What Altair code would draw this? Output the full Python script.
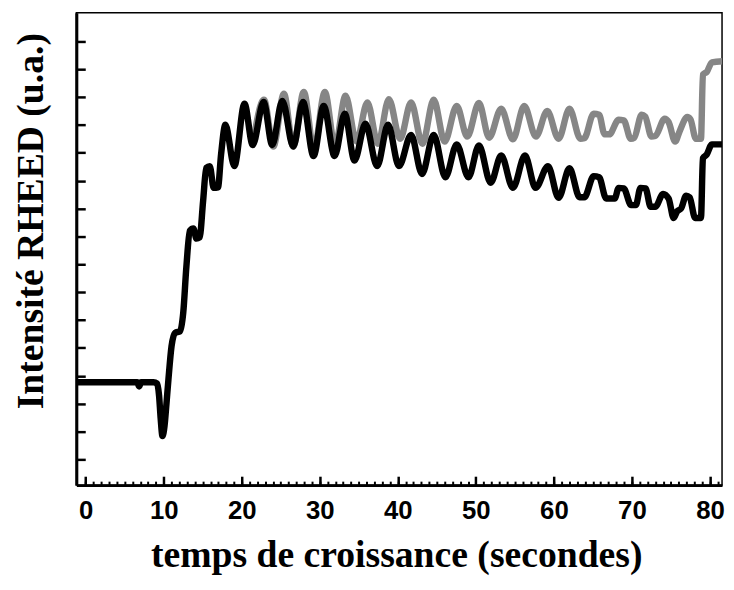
import altair as alt
import pandas as pd

# ---- data (time in s, intensity in arbitrary units) ----
black_t = [-1.2, 6.2, 6.6, 6.85, 7.1, 8.7, 9.15, 9.4, 9.6, 9.84, 10.1, 10.35, 10.6, 11.0,
           11.45, 12.1, 12.5, 12.9, 13.35, 13.8, 14.2, 14.6, 15.05, 15.45, 15.9, 16.4,
           16.95, 17.35, 17.9, 19.05, 20.35, 21.4, 22.8, 23.9, 25.2, 26.6, 27.85, 29.2,
           30.5, 31.9, 33.2, 34.45, 35.85, 37.35, 38.75, 40.15, 41.7, 43.1, 44.6, 46.1,
           47.55, 49.05, 50.4, 51.9, 53.25, 54.75, 56.3, 57.65, 59.25, 60.6, 62.0,
           63.3, 63.9, 65.1, 65.8, 66.7, 67.8, 68.3, 68.95, 69.9, 70.5, 71.1, 71.75,
           72.4, 73.0, 74.0, 74.7, 75.35, 75.8, 76.3, 76.95, 77.4, 78.1, 78.85,
           79.1, 79.6, 80.25, 81.6]
black_v = [2.385, 2.385, 2.385, 2.31, 2.385, 2.385, 2.36, 2.15, 1.75, 1.42, 1.6, 2.0, 2.43, 3.03,
           3.27, 3.30, 3.63, 4.45, 5.10, 5.14, 4.96, 4.98, 5.64, 6.23, 6.26, 5.87,
           5.88, 6.47, 7.0, 6.26, 7.38, 6.64, 7.41, 6.64, 7.43, 6.61, 7.41, 6.44,
           7.34, 6.44, 7.2, 6.36, 7.02, 6.26, 7.0, 6.26, 6.82, 6.12, 6.82, 6.06,
           6.65, 6.06, 6.63, 5.96, 6.45, 5.87, 6.45, 5.87, 6.26, 5.69, 6.22,
           5.70, 5.70, 6.08, 6.06, 5.68, 5.68, 5.87, 5.86, 5.56, 5.56, 5.87, 5.86,
           5.53, 5.53, 5.76, 5.68, 5.33, 5.45, 5.50, 5.73, 5.70, 5.33, 5.33,
           6.40, 6.47, 6.65, 6.65]

gray_t = [21.4, 22.85, 24.05, 25.4, 26.6, 27.95, 29.25, 30.65, 31.95, 33.3, 34.7, 36.1,
          37.45, 38.85, 40.3, 41.7, 43.15, 44.6, 46.0, 47.55, 48.9, 50.4, 51.7, 53.25,
          54.75, 56.2, 57.7, 59.15, 60.6, 62.0, 63.4, 63.9, 65.1, 65.8, 66.5, 67.1,
          68.3, 68.95, 69.85, 70.3, 71.25, 71.7, 72.5, 73.0, 74.2, 74.7, 75.55, 76.1,
          77.1, 77.5, 78.2, 78.85, 79.1, 79.6, 80.25, 81.6]
gray_v = [6.64, 7.45, 6.61, 7.56, 6.61, 7.59, 6.56, 7.59, 6.61, 7.52, 6.70, 7.40,
          6.66, 7.46, 6.75, 7.40, 6.66, 7.45, 6.70, 7.34, 6.79, 7.39, 6.77, 7.29,
          6.74, 7.34, 6.79, 7.25, 6.75, 7.29, 6.75, 6.76, 7.20, 7.18, 6.83, 6.83,
          7.09, 7.08, 6.75, 6.77, 7.18, 7.15, 6.79, 6.80, 7.11, 7.05, 6.70, 6.88,
          7.14, 7.10, 6.75, 6.75, 7.90, 7.95, 8.12, 8.14]

x_major = [0, 10, 20, 30, 40, 50, 60, 70, 80]
x_minor = list(range(0, 82))
y_ticks = [1.0, 1.5, 2.0, 2.5, 3.0, 3.5, 4.0, 4.5, 5.0, 5.5, 6.0, 6.5, 7.0, 7.5, 8.0, 8.5]

x_title = "temps de croissance (secondes)"
y_title = "Intensité RHEED (u.a.)"

# ---- layout ----
W, H = 652, 477
X_DOMAIN = [-1.2, 81.55]
Y_DOMAIN = [0.54, 9.01]

df_black = pd.DataFrame({"t": black_t, "v": black_v})
df_gray = pd.DataFrame({"t": gray_t, "v": gray_v})
df_xmaj = pd.DataFrame({"t": x_major})
df_xmin = pd.DataFrame({"t": x_minor})
df_y = pd.DataFrame({"v": y_ticks})

xs = alt.Scale(domain=X_DOMAIN, nice=False, zero=False)
ys = alt.Scale(domain=Y_DOMAIN, nice=False, zero=False)

line_kw = dict(strokeWidth=6.5, clip=True, interpolate="monotone",
               strokeJoin="round", strokeCap="round")

gray = alt.Chart(df_gray).mark_line(color="#868686", **line_kw).encode(
    x=alt.X("t:Q", scale=xs, axis=alt.Axis(
        orient="bottom", title=x_title, values=x_major, format="d",
        ticks=False, tickSize=0, grid=False,
        domainColor="black", domainWidth=3,
        labelFont="Liberation Sans", labelFontWeight="bold", labelFontSize=26,
        labelColor="black", labelPadding=34, labelBaseline="alphabetic",
        titleFont="Liberation Serif", titleFontWeight="bold", titleFontSize=38,
        titleColor="black", titleBaseline="alphabetic", titleY=82, titleX=W / 2 - 3,
        zindex=1)),
    y=alt.Y("v:Q", scale=ys, axis=alt.Axis(
        orient="left", title=y_title, labels=False, ticks=False, tickSize=0,
        grid=False, domainColor="black", domainWidth=3,
        titleFont="Liberation Serif", titleFontWeight="bold", titleFontSize=38,
        titleColor="black", titleAngle=-90, titleAlign="center",
        titleBaseline="alphabetic", titleX=-34, titleY=210, zindex=1)),
)

black = alt.Chart(df_black).mark_line(color="black", **line_kw).encode(
    x=alt.X("t:Q", scale=xs, axis=None),
    y=alt.Y("v:Q", scale=ys, axis=None),
)

xmaj = alt.Chart(df_xmaj).mark_point(opacity=0).encode(
    x=alt.X("t:Q", scale=xs, axis=alt.Axis(
        orient="top", offset=-H, values=x_major, labels=False, domain=False,
        grid=False, title="", tickSize=9, tickWidth=2.5, tickColor="black")),
)

xmin = alt.Chart(df_xmin).mark_point(opacity=0).encode(
    x=alt.X("t:Q", scale=xs, axis=alt.Axis(
        orient="top", offset=-H, values=x_minor, labels=False, domain=False,
        grid=False, title="", tickSize=4, tickWidth=2, tickColor="black")),
)

yt = alt.Chart(df_y).mark_point(opacity=0).encode(
    y=alt.Y("v:Q", scale=ys, axis=alt.Axis(
        orient="right", offset=-W, values=y_ticks, labels=False, domain=False,
        grid=False, title="", tickSize=9, tickWidth=2.5, tickColor="black")),
)

chart = alt.layer(gray, black, xmaj, xmin, yt).resolve_axis(
    x="independent", y="independent"
).properties(
    width=W, height=H,
    padding={"left": 69, "top": 2, "right": 4, "bottom": 91},
    autosize=alt.AutoSizeParams(type="none"),
    background="white",
).configure_view(stroke="black", strokeWidth=1.5)

chart.save("out.html", embed_options={"renderer": "svg", "actions": False})
